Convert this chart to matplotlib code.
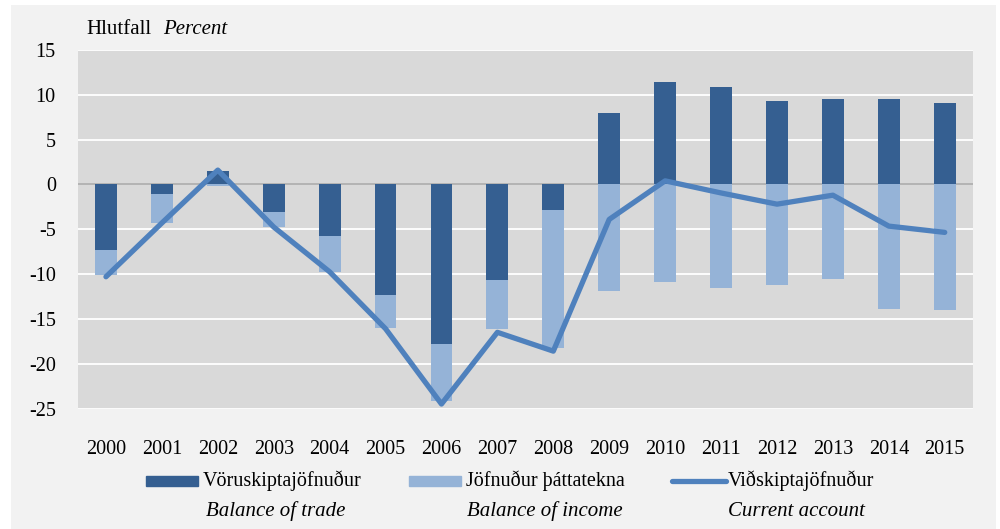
import numpy as np
import matplotlib
matplotlib.use('Agg')
import matplotlib.pyplot as plt
from matplotlib.patches import Rectangle
from matplotlib.lines import Line2D

# Gögn (hlutfall af VLF)
years = ['2000', '2001', '2002', '2003', '2004', '2005', '2006', '2007',
         '2008', '2009', '2010', '2011', '2012', '2013', '2014', '2015']
trade = [-7.3, -1.1, 1.45, -3.1, -5.7, -12.3, -17.8, -10.7,
         -2.9, 8.0, 11.45, 10.85, 9.3, 9.55, 9.55, 9.05]
income = [-2.8, -3.2, -0.2, -1.6, -4.05, -3.7, -6.4, -5.45,
          -15.4, -11.85, -10.85, -11.5, -11.25, -10.5, -13.9, -14.05]
current = [-10.3, -4.3, 1.6, -4.75, -9.75, -16.1, -24.5, -16.5,
           -18.6, -3.9, 0.4, -0.95, -2.2, -1.2, -4.65, -5.35]

dark = '#355f91'
light = '#95b3d7'
line_c = '#4f81bd'
W, H = 1000, 529

plt.rcParams['font.family'] = ['Liberation Serif', 'DejaVu Serif']
plt.rcParams['font.size'] = 14.5
plt.rcParams['axes.unicode_minus'] = False

fig = plt.figure(figsize=(W / 100, H / 100), dpi=100, facecolor='white')
# grár bakgrunnur myndar
fig.patches.append(Rectangle((11 / W, 0), (996 - 11) / W, 1 - 5 / H,
                             transform=fig.transFigure, facecolor='#f2f2f2',
                             edgecolor='none', zorder=-10))

ax = fig.add_axes([78 / W, 1 - 408.5 / H, (972.7 - 78) / W, (408.5 - 50) / H])
ax.set_facecolor('#d9d9d9')

x = np.arange(len(years))
trade = np.array(trade)
income = np.array(income)
inc_bottom = np.where(trade < 0, trade, 0)

ax.bar(x, trade, width=0.39, color=dark, zorder=3)
ax.bar(x, income, bottom=inc_bottom, width=0.39, color=light, zorder=3)
ax.plot(x, current, color=line_c, lw=3.8, solid_capstyle='round',
        solid_joinstyle='round', zorder=4)

ax.axhline(0, color='#a6a6a6', lw=1.2, zorder=2)
ax.set_ylim(-25, 15)
ax.set_xlim(-0.5, len(years) - 0.5)
ax.set_yticks(np.arange(-25, 16, 5))
ax.set_xticks(x)
ax.set_xticklabels(years)
ax.yaxis.grid(True, color='white', lw=1.3, zorder=1)
ax.set_axisbelow(True)
for s in ax.spines.values():
    s.set_visible(False)
ax.tick_params(axis='both', length=0, labelsize=14.5)
ax.tick_params(axis='y', pad=16)
ax.tick_params(axis='x', pad=23)

fig.text(86 / W, 1 - 29 / H, 'Hlutfall', va='center', ha='left', fontsize=15)
fig.text(163 / W, 1 - 29 / H, 'Percent', va='center', ha='left', fontsize=15,
         style='italic')

# Skýringar
y1 = 1 - 481 / H
y2 = 1 - 511 / H
ph = 10 / H
fig.patches.append(Rectangle((146 / W, y1 - ph / 2), 52 / W, ph,
                             transform=fig.transFigure, color=dark))
fig.patches.append(Rectangle((409 / W, y1 - ph / 2), 52 / W, ph,
                             transform=fig.transFigure, color=light))
fig.lines.append(Line2D([672 / W, 726 / W], [y1, y1], transform=fig.transFigure,
                        color=line_c, lw=3.8, solid_capstyle='round'))
fig.text(203 / W, y1, 'Vöruskiptajöfnuður', va='center', ha='left')
fig.text(466 / W, y1, 'Jöfnuður þáttatekna', va='center', ha='left')
fig.text(728 / W, y1, 'Viðskiptajöfnuður', va='center', ha='left')
fig.text(206 / W, y2, 'Balance of trade', va='center', ha='left',
         style='italic', fontsize=15)
fig.text(467 / W, y2, 'Balance of income', va='center', ha='left',
         style='italic', fontsize=15)
fig.text(728 / W, y2, 'Current account', va='center', ha='left',
         style='italic', fontsize=15)

fig.savefig('out.png', dpi=100, facecolor=fig.get_facecolor())
